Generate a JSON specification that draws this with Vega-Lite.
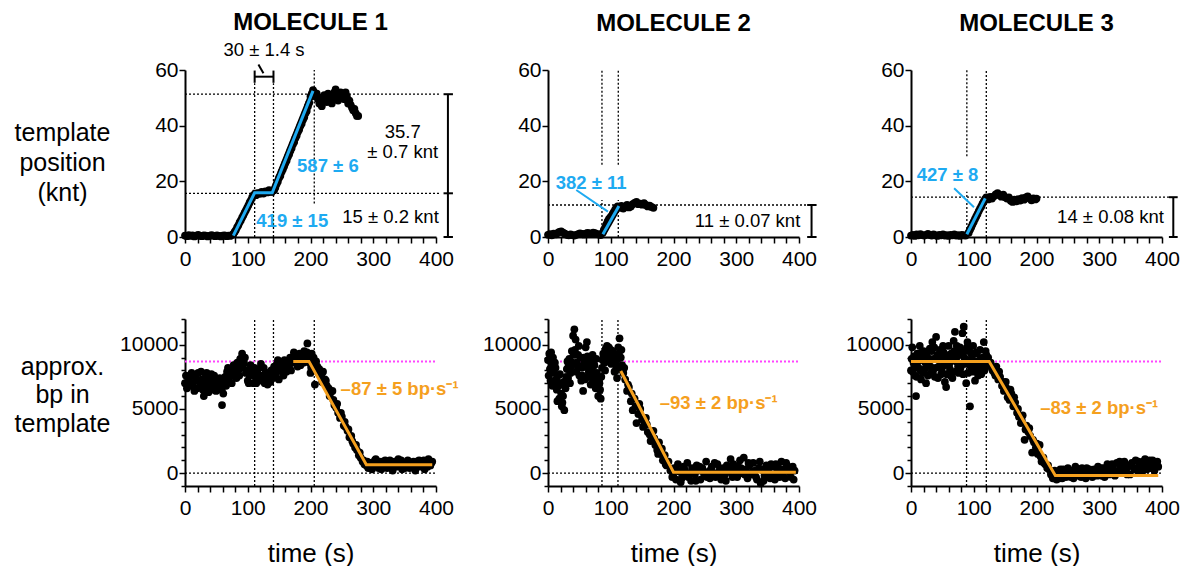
{
"$schema":"https://vega.github.io/schema/vega-lite/v6.json",
"padding":{"left":14,"top":10,"right":0,"bottom":0},
"background":"white",
"config":{
 "font":"Liberation Sans",
 "view":{"stroke":null},
 "axis":{"domainColor":"#000","domainWidth":2,"tickColor":"#000","tickWidth":1.5,"tickSize":6,"labelFontSize":21,"labelColor":"#000","labelFont":"Liberation Sans","labelOverlap":false,"labelFlush":false,"grid":false,"titleFont":"Liberation Sans","titleFontWeight":"normal","titleColor":"#000"},
 "axisX":{"labelPadding":5},
 "axisY":{"labelPadding":1},
 "title":{"font":"Liberation Sans","fontSize":24,"fontWeight":"bold","color":"#000","offset":23,"frame":"group","anchor":"middle"},
 "text":{"font":"Liberation Sans","fontSize":18}
},
"datasets":{
 "p1a":[{"t":0,"v":0.5},{"t":3,"v":0.3},{"t":6,"v":0.7},{"t":9,"v":0.4},{"t":12,"v":0.6},{"t":15,"v":0.2},{"t":18,"v":0.5},{"t":21,"v":0.8},{"t":24,"v":0.4},{"t":27,"v":0.3},{"t":30,"v":0.6},{"t":33,"v":0.5},{"t":36,"v":0.2},{"t":39,"v":0.4},{"t":42,"v":0.7},{"t":45,"v":0.5},{"t":48,"v":0.3},{"t":51,"v":0.6},{"t":54,"v":0.4},{"t":57,"v":0.2},{"t":60,"v":0.5},{"t":63,"v":0.6},{"t":66,"v":0.3},{"t":69,"v":0.5},{"t":72,"v":0.4},{"t":75,"v":0.8},{"t":77,"v":1.0},{"t":79,"v":1.8},{"t":81,"v":2.5},{"t":83,"v":3.5},{"t":85,"v":4.2},{"t":87,"v":5.3},{"t":89,"v":6.0},{"t":91,"v":7.0},{"t":93,"v":7.8},{"t":95,"v":8.8},{"t":97,"v":9.6},{"t":99,"v":10.5},{"t":101,"v":11.4},{"t":103,"v":12.4},{"t":105,"v":13.2},{"t":107,"v":14.2},{"t":109,"v":15.0},{"t":111,"v":15.3},{"t":113,"v":15.0},{"t":116,"v":15.8},{"t":119,"v":15.5},{"t":122,"v":16.2},{"t":125,"v":15.6},{"t":128,"v":16.4},{"t":131,"v":16.0},{"t":134,"v":16.8},{"t":137,"v":16.3},{"t":140,"v":16.6},{"t":142,"v":16.8},{"t":144,"v":17.8},{"t":146,"v":19.0},{"t":148,"v":19.9},{"t":150,"v":21.3},{"t":152,"v":22.0},{"t":154,"v":23.4},{"t":156,"v":24.3},{"t":158,"v":25.4},{"t":160,"v":26.6},{"t":162,"v":27.5},{"t":164,"v":28.8},{"t":166,"v":29.7},{"t":168,"v":31.0},{"t":170,"v":32.0},{"t":172,"v":33.3},{"t":174,"v":34.1},{"t":176,"v":35.6},{"t":178,"v":36.5},{"t":180,"v":37.8},{"t":182,"v":38.6},{"t":184,"v":40.0},{"t":186,"v":40.8},{"t":188,"v":42.1},{"t":190,"v":43.0},{"t":192,"v":44.5},{"t":194,"v":45.3},{"t":196,"v":47.0},{"t":198,"v":48.2},{"t":200,"v":50.5},{"t":202,"v":51.5},{"t":204,"v":52.8},{"t":206,"v":52.0},{"t":208,"v":50.5},{"t":210,"v":51.5},{"t":212,"v":49.5},{"t":214,"v":48.0},{"t":216,"v":50.0},{"t":218,"v":47.0},{"t":220,"v":49.0},{"t":222,"v":51.0},{"t":224,"v":50.0},{"t":226,"v":48.5},{"t":228,"v":51.5},{"t":230,"v":49.5},{"t":232,"v":50.5},{"t":234,"v":48.0},{"t":236,"v":50.0},{"t":238,"v":52.0},{"t":240,"v":53.0},{"t":242,"v":51.0},{"t":244,"v":49.0},{"t":246,"v":51.5},{"t":248,"v":52.0},{"t":250,"v":50.0},{"t":252,"v":51.0},{"t":254,"v":49.5},{"t":256,"v":52.0},{"t":258,"v":50.5},{"t":260,"v":48.0},{"t":262,"v":49.0},{"t":264,"v":47.5},{"t":266,"v":46.5},{"t":268,"v":45.5},{"t":270,"v":46.0},{"t":272,"v":44.5},{"t":274,"v":43.5},{"t":276,"v":43.5}],
 "p2a":[{"t":0,"v":0.8},{"t":3,"v":1.0},{"t":6,"v":0.6},{"t":9,"v":1.2},{"t":12,"v":0.9},{"t":15,"v":1.4},{"t":18,"v":1.8},{"t":21,"v":2.0},{"t":24,"v":1.6},{"t":27,"v":1.2},{"t":30,"v":0.8},{"t":33,"v":0.6},{"t":36,"v":0.9},{"t":39,"v":0.7},{"t":42,"v":0.5},{"t":45,"v":0.8},{"t":48,"v":1.0},{"t":51,"v":1.3},{"t":54,"v":1.1},{"t":57,"v":0.9},{"t":60,"v":1.2},{"t":63,"v":1.5},{"t":66,"v":1.3},{"t":69,"v":1.1},{"t":72,"v":1.6},{"t":75,"v":1.4},{"t":78,"v":1.0},{"t":81,"v":0.9},{"t":84,"v":0.7},{"t":87,"v":1.5},{"t":89,"v":2.6},{"t":91,"v":3.4},{"t":93,"v":4.5},{"t":95,"v":5.6},{"t":97,"v":6.4},{"t":99,"v":7.0},{"t":101,"v":7.5},{"t":103,"v":8.3},{"t":105,"v":9.0},{"t":107,"v":9.8},{"t":109,"v":10.5},{"t":111,"v":11.0},{"t":114,"v":10.5},{"t":117,"v":11.2},{"t":120,"v":10.2},{"t":123,"v":10.8},{"t":126,"v":11.5},{"t":129,"v":10.6},{"t":132,"v":11.0},{"t":135,"v":11.8},{"t":138,"v":12.3},{"t":141,"v":12.6},{"t":144,"v":11.8},{"t":147,"v":12.0},{"t":150,"v":11.6},{"t":153,"v":12.2},{"t":156,"v":11.5},{"t":159,"v":11.0},{"t":162,"v":11.3},{"t":165,"v":10.8},{"t":168,"v":10.5}],
 "p3a":[{"t":0,"v":0.5},{"t":3,"v":0.8},{"t":6,"v":0.4},{"t":9,"v":0.9},{"t":12,"v":0.6},{"t":15,"v":1.0},{"t":18,"v":0.7},{"t":21,"v":0.5},{"t":24,"v":0.8},{"t":27,"v":1.1},{"t":30,"v":0.7},{"t":33,"v":0.5},{"t":36,"v":0.9},{"t":39,"v":0.6},{"t":42,"v":0.4},{"t":45,"v":0.8},{"t":48,"v":0.6},{"t":51,"v":0.9},{"t":54,"v":0.5},{"t":57,"v":0.7},{"t":60,"v":0.4},{"t":63,"v":0.8},{"t":66,"v":0.6},{"t":69,"v":0.9},{"t":72,"v":0.5},{"t":75,"v":0.7},{"t":78,"v":0.4},{"t":81,"v":0.8},{"t":84,"v":0.6},{"t":87,"v":0.5},{"t":92,"v":1.5},{"t":94,"v":2.6},{"t":96,"v":3.5},{"t":98,"v":4.6},{"t":100,"v":5.5},{"t":102,"v":6.5},{"t":104,"v":7.4},{"t":106,"v":8.3},{"t":108,"v":9.3},{"t":110,"v":10.2},{"t":112,"v":11.0},{"t":114,"v":12.0},{"t":116,"v":12.8},{"t":118,"v":13.6},{"t":120,"v":14.2},{"t":123,"v":13.5},{"t":126,"v":14.4},{"t":129,"v":13.8},{"t":132,"v":14.6},{"t":135,"v":15.3},{"t":138,"v":15.8},{"t":141,"v":15.0},{"t":144,"v":14.5},{"t":147,"v":15.2},{"t":150,"v":14.3},{"t":153,"v":13.8},{"t":156,"v":14.2},{"t":159,"v":13.0},{"t":162,"v":12.6},{"t":165,"v":13.4},{"t":168,"v":12.8},{"t":171,"v":13.6},{"t":174,"v":13.1},{"t":177,"v":14.0},{"t":180,"v":13.4},{"t":183,"v":14.2},{"t":186,"v":14.6},{"t":189,"v":13.8},{"t":192,"v":13.2},{"t":195,"v":13.9},{"t":198,"v":13.5},{"t":200,"v":13.8}],
 "p1b":[{"t":0,"v":7000},{"t":3,"v":6600},{"t":6,"v":7400},{"t":9,"v":6900},{"t":12,"v":7600},{"t":15,"v":6400},{"t":18,"v":7200},{"t":21,"v":7800},{"t":24,"v":6800},{"t":27,"v":7300},{"t":30,"v":6000},{"t":33,"v":7500},{"t":36,"v":6700},{"t":39,"v":7100},{"t":42,"v":7700},{"t":45,"v":6500},{"t":48,"v":7300},{"t":51,"v":6900},{"t":54,"v":6600},{"t":57,"v":7000},{"t":59,"v":5300},{"t":61,"v":6200},{"t":64,"v":7500},{"t":67,"v":7900},{"t":70,"v":7300},{"t":73,"v":8100},{"t":76,"v":7600},{"t":79,"v":8300},{"t":82,"v":7400},{"t":85,"v":8000},{"t":88,"v":8900},{"t":91,"v":9300},{"t":94,"v":8600},{"t":97,"v":7800},{"t":100,"v":7200},{"t":103,"v":7600},{"t":106,"v":8100},{"t":109,"v":7000},{"t":112,"v":7500},{"t":115,"v":7900},{"t":118,"v":7200},{"t":121,"v":8500},{"t":124,"v":7600},{"t":127,"v":7000},{"t":130,"v":7300},{"t":133,"v":7800},{"t":136,"v":7100},{"t":139,"v":7600},{"t":142,"v":8300},{"t":145,"v":7700},{"t":148,"v":8800},{"t":151,"v":8000},{"t":154,"v":8400},{"t":157,"v":7600},{"t":160,"v":8200},{"t":163,"v":8700},{"t":166,"v":8400},{"t":169,"v":8000},{"t":172,"v":8900},{"t":175,"v":9200},{"t":178,"v":8700},{"t":181,"v":9100},{"t":184,"v":8400},{"t":187,"v":8800},{"t":190,"v":9500},{"t":193,"v":8900},{"t":195,"v":10100},{"t":198,"v":8600},{"t":200,"v":7800},{"t":202,"v":9300},{"t":205,"v":9000},{"t":207,"v":6900},{"t":209,"v":8700},{"t":211,"v":8300},{"t":214,"v":8100},{"t":217,"v":7600},{"t":220,"v":7900},{"t":223,"v":7300},{"t":226,"v":6800},{"t":229,"v":6600},{"t":232,"v":6300},{"t":235,"v":6400},{"t":238,"v":5300},{"t":241,"v":5100},{"t":244,"v":4700},{"t":247,"v":4300},{"t":250,"v":4400},{"t":253,"v":3700},{"t":256,"v":3600},{"t":259,"v":3300},{"t":262,"v":2800},{"t":265,"v":2900},{"t":268,"v":2300},{"t":271,"v":2000},{"t":274,"v":1800},{"t":277,"v":1400},{"t":280,"v":1200},{"t":283,"v":900},{"t":286,"v":700},{"t":289,"v":600},{"t":292,"v":400},{"t":295,"v":800},{"t":298,"v":300},{"t":301,"v":700},{"t":304,"v":1100},{"t":307,"v":500},{"t":310,"v":900},{"t":313,"v":300},{"t":316,"v":700},{"t":319,"v":1000},{"t":322,"v":400},{"t":325,"v":800},{"t":328,"v":600},{"t":331,"v":200},{"t":334,"v":900},{"t":337,"v":500},{"t":340,"v":1100},{"t":343,"v":700},{"t":346,"v":300},{"t":349,"v":800},{"t":352,"v":600},{"t":355,"v":1000},{"t":358,"v":400},{"t":361,"v":700},{"t":364,"v":900},{"t":367,"v":200},{"t":370,"v":600},{"t":373,"v":1000},{"t":376,"v":500},{"t":379,"v":800},{"t":382,"v":300},{"t":385,"v":700},{"t":388,"v":1100},{"t":391,"v":600},{"t":394,"v":900},
  {"t":1.5,"v":7600},{"t":4.5,"v":6800},{"t":7.5,"v":7100},{"t":10.5,"v":7800},{"t":13.5,"v":6700},{"t":16.5,"v":7500},{"t":19.5,"v":6600},{"t":22.5,"v":7200},{"t":25.5,"v":7900},{"t":28.5,"v":6500},{"t":31.5,"v":7000},{"t":34.5,"v":7800},{"t":37.5,"v":6300},{"t":40.5,"v":7400},{"t":43.5,"v":6900},{"t":46.5,"v":7600},{"t":49.5,"v":6400},{"t":52.5,"v":7200},{"t":55.5,"v":7400},{"t":58.5,"v":6500},{"t":62.5,"v":7000},{"t":65.5,"v":6800},{"t":68.5,"v":8200},{"t":71.5,"v":7700},{"t":74.5,"v":7000},{"t":77.5,"v":8400},{"t":80.5,"v":7900},{"t":83.5,"v":8600},{"t":86.5,"v":7600},{"t":89.5,"v":8200},{"t":92.5,"v":8400},{"t":95.5,"v":9000},{"t":98.5,"v":8000},{"t":101.5,"v":7000},{"t":104.5,"v":8400},{"t":107.5,"v":7800},{"t":110.5,"v":8200},{"t":113.5,"v":7000},{"t":116.5,"v":8100},{"t":119.5,"v":7600},{"t":122.5,"v":7300},{"t":125.5,"v":8200},{"t":128.5,"v":7800},{"t":131.5,"v":6900},{"t":134.5,"v":7600},{"t":137.5,"v":8000},{"t":140.5,"v":7400},{"t":143.5,"v":8000},{"t":146.5,"v":8500},{"t":149.5,"v":7300},{"t":152.5,"v":8600},{"t":155.5,"v":8000},{"t":158.5,"v":8800},{"t":161.5,"v":7900},{"t":164.5,"v":8300},{"t":167.5,"v":9000},{"t":170.5,"v":8600},{"t":173.5,"v":9400},{"t":176.5,"v":8900},{"t":179.5,"v":8300},{"t":182.5,"v":9300},{"t":185.5,"v":9000},{"t":188.5,"v":8600},{"t":191.5,"v":9200},{"t":194.5,"v":9400},{"t":197.5,"v":9100},{"t":201,"v":8200},{"t":204,"v":8600},{"t":212.5,"v":7800},{"t":218.5,"v":7100},{"t":224.5,"v":7200},{"t":230.5,"v":6000},{"t":236.5,"v":5700},{"t":242.5,"v":5400},{"t":248.5,"v":4700},{"t":254.5,"v":4000},{"t":260.5,"v":3400},{"t":266.5,"v":2500},{"t":272.5,"v":2200},{"t":278.5,"v":1600},{"t":284.5,"v":1000},{"t":290.5,"v":900},{"t":296.5,"v":500},{"t":302.5,"v":1000},{"t":308.5,"v":400},{"t":314.5,"v":900},{"t":320.5,"v":600},{"t":326.5,"v":1000},{"t":332.5,"v":500},{"t":338.5,"v":800},{"t":344.5,"v":1000},{"t":350.5,"v":400},{"t":356.5,"v":700},{"t":362.5,"v":500},{"t":368.5,"v":900},{"t":374.5,"v":700},{"t":380.5,"v":1000},{"t":386.5,"v":500},{"t":392.5,"v":800}],
 "p2b":[{"t":0,"v":8800},{"t":2,"v":9300},{"t":4,"v":7200},{"t":6,"v":8500},{"t":8,"v":9000},{"t":10,"v":7000},{"t":12,"v":8200},{"t":14,"v":6500},{"t":16,"v":7600},{"t":18,"v":5800},{"t":20,"v":7000},{"t":22,"v":5200},{"t":24,"v":6000},{"t":26,"v":4900},{"t":28,"v":6600},{"t":30,"v":8100},{"t":32,"v":7400},{"t":34,"v":8900},{"t":36,"v":7800},{"t":38,"v":9500},{"t":40,"v":10700},{"t":42,"v":11200},{"t":44,"v":10400},{"t":46,"v":8600},{"t":48,"v":9200},{"t":50,"v":7600},{"t":52,"v":9000},{"t":54,"v":8200},{"t":56,"v":6400},{"t":58,"v":8700},{"t":60,"v":9800},{"t":62,"v":10200},{"t":64,"v":7500},{"t":66,"v":8800},{"t":68,"v":6900},{"t":70,"v":8000},{"t":72,"v":7200},{"t":74,"v":8400},{"t":76,"v":6600},{"t":78,"v":7800},{"t":80,"v":6000},{"t":82,"v":7000},{"t":84,"v":5800},{"t":86,"v":8200},{"t":88,"v":9300},{"t":90,"v":8600},{"t":92,"v":9700},{"t":94,"v":9900},{"t":96,"v":9400},{"t":98,"v":8800},{"t":100,"v":9600},{"t":102,"v":8900},{"t":104,"v":9100},{"t":106,"v":7900},{"t":108,"v":8600},{"t":110,"v":7400},{"t":112,"v":9800},{"t":114,"v":10500},{"t":116,"v":9000},{"t":118,"v":8400},{"t":120,"v":7800},{"t":123,"v":7300},{"t":126,"v":6400},{"t":129,"v":6700},{"t":132,"v":5600},{"t":135,"v":4900},{"t":138,"v":5800},{"t":141,"v":3900},{"t":144,"v":4600},{"t":147,"v":5000},{"t":150,"v":4200},{"t":153,"v":3700},{"t":156,"v":4300},{"t":159,"v":3200},{"t":162,"v":3000},{"t":165,"v":2600},{"t":168,"v":3300},{"t":171,"v":2200},{"t":174,"v":1800},{"t":177,"v":2400},{"t":180,"v":1500},{"t":183,"v":1000},{"t":186,"v":1400},{"t":189,"v":600},{"t":192,"v":900},{"t":195,"v":200},{"t":198,"v":-300},{"t":201,"v":400},{"t":204,"v":-500},{"t":207,"v":700},{"t":210,"v":100},{"t":213,"v":-400},{"t":216,"v":500},{"t":219,"v":-200},{"t":222,"v":800},{"t":225,"v":0},{"t":228,"v":-600},{"t":231,"v":300},{"t":234,"v":-100},{"t":237,"v":600},{"t":240,"v":200},{"t":243,"v":-500},{"t":246,"v":400},{"t":249,"v":-200},{"t":252,"v":900},{"t":255,"v":100},{"t":258,"v":-400},{"t":261,"v":500},{"t":264,"v":0},{"t":267,"v":-300},{"t":270,"v":700},{"t":273,"v":200},{"t":276,"v":-500},{"t":279,"v":400},{"t":282,"v":-100},{"t":285,"v":600},{"t":288,"v":100},{"t":291,"v":1100},{"t":294,"v":-300},{"t":297,"v":300},{"t":300,"v":-200},{"t":303,"v":500},{"t":306,"v":1000},{"t":309,"v":0},{"t":312,"v":1200},{"t":315,"v":300},{"t":318,"v":-400},{"t":321,"v":600},{"t":324,"v":-100},{"t":327,"v":800},{"t":330,"v":200},{"t":333,"v":-500},{"t":336,"v":400},{"t":339,"v":-800},{"t":342,"v":300},{"t":345,"v":-200},{"t":348,"v":600},{"t":351,"v":100},{"t":354,"v":-400},{"t":357,"v":500},{"t":360,"v":-100},{"t":363,"v":700},{"t":366,"v":200},{"t":369,"v":-300},{"t":372,"v":900},{"t":375,"v":300},{"t":378,"v":-400},{"t":381,"v":600},{"t":384,"v":100},{"t":387,"v":-300},{"t":390,"v":500},{"t":393,"v":200},
  {"t":1,"v":7600},{"t":3,"v":8100},{"t":5,"v":9400},{"t":7,"v":6800},{"t":9,"v":7800},{"t":11,"v":8600},{"t":13,"v":7300},{"t":15,"v":5600},{"t":17,"v":6800},{"t":19,"v":7700},{"t":21,"v":6200},{"t":23,"v":5500},{"t":25,"v":7100},{"t":27,"v":6900},{"t":29,"v":7500},{"t":31,"v":8700},{"t":33,"v":8400},{"t":35,"v":7000},{"t":37,"v":8300},{"t":39,"v":8600},{"t":41,"v":9200},{"t":43,"v":9600},{"t":45,"v":7900},{"t":47,"v":8400},{"t":49,"v":9900},{"t":51,"v":8300},{"t":53,"v":7200},{"t":55,"v":7600},{"t":57,"v":9000},{"t":59,"v":7300},{"t":61,"v":8300},{"t":63,"v":9100},{"t":65,"v":7900},{"t":67,"v":7500},{"t":69,"v":8500},{"t":71,"v":9200},{"t":73,"v":7800},{"t":75,"v":7600},{"t":77,"v":8900},{"t":79,"v":7000},{"t":81,"v":7300},{"t":83,"v":6500},{"t":85,"v":7500},{"t":87,"v":8800},{"t":89,"v":9100},{"t":91,"v":8000},{"t":93,"v":9000},{"t":95,"v":8700},{"t":97,"v":9800},{"t":99,"v":9300},{"t":101,"v":8500},{"t":103,"v":9500},{"t":105,"v":8600},{"t":107,"v":9200},{"t":109,"v":8100},{"t":111,"v":8900},{"t":113,"v":9300},{"t":115,"v":8100},{"t":117,"v":9600},{"t":121.5,"v":8200},{"t":127.5,"v":6900},{"t":133.5,"v":6200},{"t":139.5,"v":5200},{"t":145.5,"v":5400},{"t":151.5,"v":3600},{"t":157.5,"v":3800},{"t":163.5,"v":2500},{"t":169.5,"v":2700},{"t":175.5,"v":1500},{"t":181.5,"v":1900},{"t":187.5,"v":700},{"t":199.5,"v":-200},{"t":205.5,"v":200},{"t":211.5,"v":-700},{"t":217.5,"v":300},{"t":223.5,"v":-300},{"t":229.5,"v":400},{"t":235.5,"v":-600},{"t":241.5,"v":500},{"t":247.5,"v":100},{"t":253.5,"v":-300},{"t":259.5,"v":300},{"t":265.5,"v":800},{"t":271.5,"v":-200},{"t":277.5,"v":200},{"t":283.5,"v":-600},{"t":289.5,"v":400},{"t":295.5,"v":700},{"t":301.5,"v":-300},{"t":307.5,"v":400},{"t":313.5,"v":-100},{"t":319.5,"v":800},{"t":325.5,"v":100},{"t":331.5,"v":-300},{"t":337.5,"v":900},{"t":343.5,"v":-600},{"t":349.5,"v":200},{"t":355.5,"v":700},{"t":361.5,"v":-500},{"t":367.5,"v":400},{"t":373.5,"v":-200},{"t":379.5,"v":800},{"t":385.5,"v":300},{"t":391.5,"v":-500}],
 "p3b":[{"t":0,"v":8000},{"t":2,"v":9800},{"t":4,"v":8600},{"t":6,"v":7600},{"t":8,"v":6000},{"t":10,"v":9300},{"t":12,"v":8200},{"t":14,"v":9900},{"t":16,"v":7300},{"t":18,"v":8800},{"t":20,"v":9500},{"t":22,"v":8100},{"t":24,"v":7000},{"t":26,"v":9000},{"t":28,"v":8500},{"t":30,"v":9700},{"t":32,"v":7800},{"t":34,"v":10200},{"t":36,"v":8900},{"t":38,"v":7500},{"t":40,"v":10600},{"t":42,"v":9200},{"t":44,"v":8300},{"t":46,"v":9600},{"t":48,"v":7700},{"t":50,"v":8900},{"t":52,"v":9400},{"t":54,"v":7100},{"t":56,"v":6700},{"t":58,"v":8600},{"t":60,"v":9900},{"t":62,"v":8100},{"t":64,"v":9300},{"t":66,"v":7400},{"t":68,"v":10300},{"t":70,"v":11000},{"t":72,"v":8700},{"t":74,"v":9100},{"t":76,"v":7800},{"t":78,"v":9800},{"t":80,"v":8400},{"t":82,"v":10900},{"t":84,"v":11400},{"t":86,"v":9500},{"t":88,"v":7000},{"t":90,"v":10200},{"t":92,"v":8800},{"t":94,"v":5200},{"t":96,"v":9300},{"t":98,"v":7900},{"t":100,"v":8600},{"t":102,"v":7200},{"t":104,"v":9400},{"t":106,"v":8000},{"t":108,"v":8700},{"t":110,"v":9600},{"t":112,"v":7700},{"t":114,"v":9000},{"t":116,"v":10200},{"t":118,"v":8400},{"t":120,"v":9200},{"t":122,"v":8800},{"t":124,"v":8600},{"t":127,"v":8600},{"t":130,"v":8000},{"t":133,"v":7800},{"t":136,"v":8300},{"t":139,"v":7300},{"t":142,"v":7500},{"t":145,"v":6800},{"t":148,"v":6400},{"t":151,"v":7100},{"t":154,"v":5900},{"t":157,"v":5700},{"t":160,"v":6200},{"t":163,"v":5200},{"t":166,"v":5500},{"t":169,"v":4700},{"t":172,"v":4400},{"t":175,"v":3900},{"t":178,"v":4500},{"t":181,"v":2600},{"t":184,"v":3700},{"t":187,"v":3200},{"t":190,"v":2900},{"t":193,"v":1600},{"t":196,"v":2400},{"t":199,"v":2000},{"t":202,"v":1500},{"t":205,"v":2200},{"t":208,"v":900},{"t":211,"v":1200},{"t":214,"v":700},{"t":217,"v":400},{"t":220,"v":300},{"t":223,"v":-100},{"t":226,"v":-400},{"t":229,"v":200},{"t":232,"v":-500},{"t":235,"v":-200},{"t":238,"v":300},{"t":241,"v":-400},{"t":244,"v":100},{"t":247,"v":-300},{"t":250,"v":400},{"t":253,"v":-200},{"t":256,"v":200},{"t":259,"v":-400},{"t":262,"v":500},{"t":265,"v":-100},{"t":268,"v":300},{"t":271,"v":-300},{"t":274,"v":200},{"t":277,"v":-200},{"t":280,"v":400},{"t":283,"v":-100},{"t":286,"v":100},{"t":289,"v":-300},{"t":292,"v":300},{"t":295,"v":-100},{"t":298,"v":500},{"t":301,"v":0},{"t":304,"v":-200},{"t":307,"v":400},{"t":310,"v":100},{"t":313,"v":700},{"t":316,"v":-100},{"t":319,"v":300},{"t":322,"v":500},{"t":325,"v":-200},{"t":328,"v":800},{"t":331,"v":200},{"t":334,"v":600},{"t":337,"v":0},{"t":340,"v":900},{"t":343,"v":300},{"t":346,"v":600},{"t":349,"v":-100},{"t":352,"v":800},{"t":355,"v":400},{"t":358,"v":1000},{"t":361,"v":200},{"t":364,"v":700},{"t":367,"v":500},{"t":370,"v":900},{"t":373,"v":1100},{"t":376,"v":300},{"t":379,"v":800},{"t":382,"v":400},{"t":385,"v":1000},{"t":388,"v":200},{"t":391,"v":700},{"t":394,"v":500},
  {"t":1,"v":8900},{"t":3,"v":7900},{"t":5,"v":9100},{"t":7,"v":8400},{"t":9,"v":7500},{"t":11,"v":8700},{"t":13,"v":9100},{"t":15,"v":8000},{"t":17,"v":9400},{"t":19,"v":7800},{"t":21,"v":9000},{"t":23,"v":8600},{"t":25,"v":9300},{"t":27,"v":7600},{"t":29,"v":8900},{"t":31,"v":8300},{"t":33,"v":9500},{"t":35,"v":7900},{"t":37,"v":9800},{"t":39,"v":8200},{"t":41,"v":9000},{"t":43,"v":7400},{"t":45,"v":8800},{"t":47,"v":9400},{"t":49,"v":8100},{"t":51,"v":9900},{"t":53,"v":8400},{"t":55,"v":9200},{"t":57,"v":7700},{"t":59,"v":9100},{"t":61,"v":8500},{"t":63,"v":7600},{"t":65,"v":9000},{"t":67,"v":8800},{"t":69,"v":9500},{"t":71,"v":7900},{"t":73,"v":9900},{"t":75,"v":8300},{"t":77,"v":9600},{"t":79,"v":8200},{"t":81,"v":9400},{"t":83,"v":7700},{"t":85,"v":9000},{"t":87,"v":8500},{"t":89,"v":9800},{"t":91,"v":7800},{"t":93,"v":9500},{"t":95,"v":8300},{"t":97,"v":8900},{"t":99,"v":9900},{"t":101,"v":8100},{"t":103,"v":8700},{"t":105,"v":9300},{"t":107,"v":7600},{"t":109,"v":8500},{"t":111,"v":8900},{"t":113,"v":8200},{"t":115,"v":8700},{"t":117,"v":8000},{"t":119,"v":9500},{"t":121,"v":8400},{"t":123,"v":9000},{"t":128.5,"v":8200},{"t":134.5,"v":7600},{"t":140.5,"v":7900},{"t":146.5,"v":7100},{"t":152.5,"v":6600},{"t":158.5,"v":6500},{"t":164.5,"v":5900},{"t":170.5,"v":5000},{"t":176.5,"v":4100},{"t":182.5,"v":3400},{"t":188.5,"v":3500},{"t":194.5,"v":2600},{"t":200.5,"v":2300},{"t":206.5,"v":1300},{"t":212.5,"v":800},{"t":218.5,"v":600},{"t":224.5,"v":100},{"t":230.5,"v":100},{"t":236.5,"v":-400},{"t":242.5,"v":300},{"t":248.5,"v":0},{"t":254.5,"v":-300},{"t":260.5,"v":200},{"t":266.5,"v":-200},{"t":272.5,"v":400},{"t":278.5,"v":-400},{"t":284.5,"v":300},{"t":290.5,"v":0},{"t":296.5,"v":-200},{"t":302.5,"v":400},{"t":308.5,"v":-300},{"t":314.5,"v":300},{"t":320.5,"v":700},{"t":326.5,"v":100},{"t":332.5,"v":900},{"t":338.5,"v":400},{"t":344.5,"v":-100},{"t":350.5,"v":600},{"t":356.5,"v":300},{"t":362.5,"v":900},{"t":368.5,"v":100},{"t":374.5,"v":700},{"t":380.5,"v":1000},{"t":386.5,"v":500},{"t":392.5,"v":900}],
 "fit":[
  {"p":"1a","t":77,"v":0.5},{"p":"1a","t":111,"v":15.9},{"p":"1a","t":139,"v":15.9},{"p":"1a","t":204,"v":52.5},
  {"p":"2a","t":87.5,"v":1.0},{"p":"2a","t":113,"v":11.1},
  {"p":"3a","t":89,"v":1.0},{"p":"3a","t":118.3,"v":13.9},
  {"p":"1b","t":172.5,"v":8700},{"p":"1b","t":197.5,"v":8700},{"p":"1b","t":289,"v":650},{"p":"1b","t":394,"v":650},
  {"p":"2b","t":116,"v":7950},{"p":"2b","t":200,"v":80},{"p":"2b","t":395,"v":80},
  {"p":"3b","t":0,"v":8700},{"p":"3b","t":124.6,"v":8700},{"p":"3b","t":230,"v":-180},{"p":"3b","t":394,"v":-180}
 ],
 "ann":[
  {"p":"1a","k":"guide","t":111,"t2":111,"v":0,"v2":55.2},
  {"p":"1a","k":"guide","t":141,"t2":141,"v":0,"v2":55.2},
  {"p":"1a","k":"guide","t":206,"t2":206,"v":12,"v2":60},
  {"p":"1a","k":"guide","t":0,"t2":407,"v":51.3,"v2":51.3},
  {"p":"1a","k":"guide","t":0,"t2":407,"v":15.7,"v2":15.7},
  {"p":"1a","k":"bar","t":419,"t2":419,"v":0,"v2":51.3},
  {"p":"1a","k":"bar","t":412,"t2":427,"v":51.3,"v2":51.3},
  {"p":"1a","k":"bar","t":412,"t2":427,"v":15.7,"v2":15.7},
  {"p":"1a","k":"bar","t":412,"t2":427,"v":0,"v2":0},
  {"p":"1a","k":"bar","t":111,"t2":141,"v":57.6,"v2":57.6},
  {"p":"1a","k":"bar","t":111,"t2":111,"v":55.4,"v2":59.8},
  {"p":"1a","k":"bar","t":141,"t2":141,"v":55.4,"v2":59.8},
  {"p":"1a","k":"leadk","t":117,"t2":125,"v":62,"v2":58.8},
  {"p":"2a","k":"guide","t":86,"t2":86,"v":26,"v2":60},
  {"p":"2a","k":"guide","t":86,"t2":86,"v":0,"v2":13.3},
  {"p":"2a","k":"guide","t":112,"t2":112,"v":26,"v2":60},
  {"p":"2a","k":"guide","t":112,"t2":112,"v":0,"v2":13.3},
  {"p":"2a","k":"guide","t":0,"t2":412,"v":11.5,"v2":11.5},
  {"p":"2a","k":"bar","t":420,"t2":420,"v":0,"v2":11.5},
  {"p":"2a","k":"bar","t":413,"t2":428,"v":11.5,"v2":11.5},
  {"p":"2a","k":"bar","t":413,"t2":428,"v":0,"v2":0},
  {"p":"2a","k":"lead","t":45,"t2":95.5,"v":16.9,"v2":9.1},
  {"p":"3a","k":"guide","t":89,"t2":89,"v":29,"v2":60},
  {"p":"3a","k":"guide","t":89,"t2":89,"v":0,"v2":16.3},
  {"p":"3a","k":"guide","t":120,"t2":120,"v":0,"v2":60},
  {"p":"3a","k":"guide","t":0,"t2":412,"v":14.3,"v2":14.3},
  {"p":"3a","k":"bar","t":418,"t2":418,"v":0,"v2":14.3},
  {"p":"3a","k":"bar","t":411,"t2":425,"v":14.3,"v2":14.3},
  {"p":"3a","k":"bar","t":411,"t2":425,"v":0,"v2":0},
  {"p":"3a","k":"lead","t":68.7,"t2":100.4,"v":17.5,"v2":10.7},
  {"p":"1b","k":"guide","t":111,"t2":111,"v":-1000,"v2":12000},
  {"p":"1b","k":"guide","t":141,"t2":141,"v":-1000,"v2":12000},
  {"p":"1b","k":"guide","t":206,"t2":206,"v":-1000,"v2":12000},
  {"p":"1b","k":"guide","t":0,"t2":400,"v":0,"v2":0},
  {"p":"1b","k":"mag","t":0,"t2":400,"v":8700,"v2":8700},
  {"p":"2b","k":"guide","t":86,"t2":86,"v":-1000,"v2":12000},
  {"p":"2b","k":"guide","t":111.5,"t2":111.5,"v":-1000,"v2":12000},
  {"p":"2b","k":"guide","t":0,"t2":400,"v":0,"v2":0},
  {"p":"2b","k":"mag","t":0,"t2":400,"v":8700,"v2":8700},
  {"p":"3b","k":"guide","t":88.5,"t2":88.5,"v":-1000,"v2":12000},
  {"p":"3b","k":"guide","t":120,"t2":120,"v":-1000,"v2":12000},
  {"p":"3b","k":"guide","t":0,"t2":400,"v":0,"v2":0},
  {"p":"3b","k":"mag","t":0,"t2":400,"v":8700,"v2":8700}
 ],
 "lab":[
  {"p":"1a","k":"note","t":347,"v":37.8,"s":"35.7"},
  {"p":"1a","k":"note","t":347,"v":30.6,"s":"± 0.7 knt"},
  {"p":"1a","k":"note","t":327.5,"v":7.3,"s":"15 ± 0.2 knt"},
  {"p":"1a","k":"note","t":126,"v":67.2,"s":"30 ± 1.4 s"},
  {"p":"1a","k":"fit","t":227.7,"v":25.6,"s":"587 ± 6"},
  {"p":"1a","k":"fit","t":170.9,"v":5.7,"s":"419 ± 15"},
  {"p":"2a","k":"note","t":318,"v":5.9,"s":"11 ± 0.07 knt"},
  {"p":"2a","k":"fit","t":68.8,"v":19.5,"s":"382 ± 11"},
  {"p":"3a","k":"note","t":318,"v":7.3,"s":"14 ± 0.08 knt"},
  {"p":"3a","k":"fit","t":58.3,"v":22.3,"s":"427 ± 8"},
  {"p":"1b","k":"fit","t":248,"v":6530,"s":"–87 ± 5 bp·s⁻¹"},
  {"p":"2b","k":"fit","t":178,"v":5434,"s":"–93 ± 2 bp·s⁻¹"},
  {"p":"3b","k":"fit","t":206,"v":5043,"s":"–83 ± 2 bp·s⁻¹"}
 ]
},
"columns":3,
"spacing":{"row":82,"column":112},
"bounds":"flush",
"concat":[
  {"width":251,"height":167,"title":{"text":"MOLECULE 1","offset":6},
   "encoding":{"x":{"field":"t","type":"quantitative","scale":{"domain":[0,400],"nice":false,"zero":false},"axis":{"values":[0,20,40,60,80,100,120,140,160,180,200,220,240,260,280,300,320,340,360,380,400],"labelExpr":"datum.value % 100 === 0 ? datum.label : ''","title":null}},
               "y":{"field":"v","type":"quantitative","scale":{"domain":[0,60],"nice":false,"zero":false},"axis":{"values":[0,20,40,60],"format":"d","title":["template","position","(knt)"],"titleAngle":0,"titleAlign":"center","titleBaseline":"middle","titleX":-123,"titleY":62,"titleFontSize":25,"titleLineHeight":30}}},
   "layer":[
    {"data":{"name":"ann"},"transform":[{"filter":"datum.p==='1a' && datum.k==='guide'"}],"mark":{"type":"rule","color":"#000","strokeWidth":1.3,"strokeDash":[2,2]},"encoding":{"x2":{"field":"t2"},"y2":{"field":"v2"}}},
    {"data":{"name":"p1a"},"mark":{"type":"circle","size":60,"color":"#000","opacity":1}},
    {"data":{"name":"fit"},"transform":[{"filter":"datum.p==='1a'"}],"mark":{"type":"line","color":"#000","strokeWidth":6}},
    {"data":{"name":"fit"},"transform":[{"filter":"datum.p==='1a'"}],"mark":{"type":"line","color":"#1eaaf1","strokeWidth":3}},
    {"data":{"name":"ann"},"transform":[{"filter":"datum.p==='1a' && datum.k==='bar'"}],"mark":{"type":"rule","color":"#000","strokeWidth":2},"encoding":{"x2":{"field":"t2"},"y2":{"field":"v2"}}},
    {"data":{"name":"ann"},"transform":[{"filter":"datum.p==='1a' && datum.k==='leadk'"}],"mark":{"type":"rule","color":"#000","strokeWidth":2},"encoding":{"x2":{"field":"t2"},"y2":{"field":"v2"}}},
    {"data":{"name":"lab"},"transform":[{"filter":"datum.p==='1a' && datum.k==='note'"}],"mark":{"type":"text","fontSize":18.5,"color":"#000"},"encoding":{"text":{"field":"s"}}},
    {"data":{"name":"lab"},"transform":[{"filter":"datum.p==='1a' && datum.k==='fit'"}],"mark":{"type":"text","fontSize":18.5,"fontWeight":"bold","color":"#1eaaf1"},"encoding":{"text":{"field":"s"}}}
   ]},
  {"width":251,"height":167,"title":"MOLECULE 2",
   "encoding":{"x":{"field":"t","type":"quantitative","scale":{"domain":[0,400],"nice":false,"zero":false},"axis":{"values":[0,20,40,60,80,100,120,140,160,180,200,220,240,260,280,300,320,340,360,380,400],"labelExpr":"datum.value % 100 === 0 ? datum.label : ''","title":null}},
               "y":{"field":"v","type":"quantitative","scale":{"domain":[0,60],"nice":false,"zero":false},"axis":{"values":[0,20,40,60],"format":"d","title":null}}},
   "layer":[
    {"data":{"name":"ann"},"transform":[{"filter":"datum.p==='2a' && datum.k==='guide'"}],"mark":{"type":"rule","color":"#000","strokeWidth":1.3,"strokeDash":[2,2]},"encoding":{"x2":{"field":"t2"},"y2":{"field":"v2"}}},
    {"data":{"name":"p2a"},"mark":{"type":"circle","size":60,"color":"#000","opacity":1}},
    {"data":{"name":"fit"},"transform":[{"filter":"datum.p==='2a'"}],"mark":{"type":"line","color":"#000","strokeWidth":6}},
    {"data":{"name":"fit"},"transform":[{"filter":"datum.p==='2a'"}],"mark":{"type":"line","color":"#1eaaf1","strokeWidth":3}},
    {"data":{"name":"ann"},"transform":[{"filter":"datum.p==='2a' && datum.k==='bar'"}],"mark":{"type":"rule","color":"#000","strokeWidth":2},"encoding":{"x2":{"field":"t2"},"y2":{"field":"v2"}}},
    {"data":{"name":"ann"},"transform":[{"filter":"datum.p==='2a' && datum.k==='lead'"}],"mark":{"type":"rule","color":"#1eaaf1","strokeWidth":2},"encoding":{"x2":{"field":"t2"},"y2":{"field":"v2"}}},
    {"data":{"name":"lab"},"transform":[{"filter":"datum.p==='2a' && datum.k==='note'"}],"mark":{"type":"text","fontSize":18.5,"color":"#000"},"encoding":{"text":{"field":"s"}}},
    {"data":{"name":"lab"},"transform":[{"filter":"datum.p==='2a' && datum.k==='fit'"}],"mark":{"type":"text","fontSize":18.5,"fontWeight":"bold","color":"#1eaaf1"},"encoding":{"text":{"field":"s"}}}
   ]},
  {"width":251,"height":167,"title":"MOLECULE 3",
   "encoding":{"x":{"field":"t","type":"quantitative","scale":{"domain":[0,400],"nice":false,"zero":false},"axis":{"values":[0,20,40,60,80,100,120,140,160,180,200,220,240,260,280,300,320,340,360,380,400],"labelExpr":"datum.value % 100 === 0 ? datum.label : ''","title":null}},
               "y":{"field":"v","type":"quantitative","scale":{"domain":[0,60],"nice":false,"zero":false},"axis":{"values":[0,20,40,60],"format":"d","title":null}}},
   "layer":[
    {"data":{"name":"ann"},"transform":[{"filter":"datum.p==='3a' && datum.k==='guide'"}],"mark":{"type":"rule","color":"#000","strokeWidth":1.3,"strokeDash":[2,2]},"encoding":{"x2":{"field":"t2"},"y2":{"field":"v2"}}},
    {"data":{"name":"p3a"},"mark":{"type":"circle","size":60,"color":"#000","opacity":1}},
    {"data":{"name":"fit"},"transform":[{"filter":"datum.p==='3a'"}],"mark":{"type":"line","color":"#000","strokeWidth":6}},
    {"data":{"name":"fit"},"transform":[{"filter":"datum.p==='3a'"}],"mark":{"type":"line","color":"#1eaaf1","strokeWidth":3}},
    {"data":{"name":"ann"},"transform":[{"filter":"datum.p==='3a' && datum.k==='bar'"}],"mark":{"type":"rule","color":"#000","strokeWidth":2},"encoding":{"x2":{"field":"t2"},"y2":{"field":"v2"}}},
    {"data":{"name":"ann"},"transform":[{"filter":"datum.p==='3a' && datum.k==='lead'"}],"mark":{"type":"rule","color":"#1eaaf1","strokeWidth":2},"encoding":{"x2":{"field":"t2"},"y2":{"field":"v2"}}},
    {"data":{"name":"lab"},"transform":[{"filter":"datum.p==='3a' && datum.k==='note'"}],"mark":{"type":"text","fontSize":18.5,"color":"#000"},"encoding":{"text":{"field":"s"}}},
    {"data":{"name":"lab"},"transform":[{"filter":"datum.p==='3a' && datum.k==='fit'"}],"mark":{"type":"text","fontSize":18.5,"fontWeight":"bold","color":"#1eaaf1"},"encoding":{"text":{"field":"s"}}}
   ]},
  {"width":251,"height":167,
   "encoding":{"x":{"field":"t","type":"quantitative","scale":{"domain":[0,400],"nice":false,"zero":false},"axis":{"values":[0,20,40,60,80,100,120,140,160,180,200,220,240,260,280,300,320,340,360,380,400],"labelExpr":"datum.value % 100 === 0 ? datum.label : ''","title":"time (s)","titleFontSize":26,"titlePadding":22}},
               "y":{"field":"v","type":"quantitative","scale":{"domain":[-1000,12000],"nice":false,"zero":false},"axis":{"values":[-1000,0,1000,2000,3000,4000,5000,6000,7000,8000,9000,10000,11000,12000],"format":"d","labelExpr":"datum.value % 5000 === 0 ? datum.label : ''","tickSize":{"condition":{"test":"datum.value % 5000 === 0","value":6},"value":4},"title":["approx.","bp in","template"],"titleAngle":0,"titleAlign":"center","titleBaseline":"middle","titleX":-123,"titleY":47,"titleFontSize":25,"titleLineHeight":28.5}}},
   "layer":[
    {"data":{"name":"ann"},"transform":[{"filter":"datum.p==='1b' && datum.k==='guide'"}],"mark":{"type":"rule","color":"#000","strokeWidth":1.3,"strokeDash":[2,2]},"encoding":{"x2":{"field":"t2"},"y2":{"field":"v2"}}},
    {"data":{"name":"ann"},"transform":[{"filter":"datum.p==='1b' && datum.k==='mag'"}],"mark":{"type":"rule","color":"#ff44ff","strokeWidth":2,"strokeDash":[2,2]},"encoding":{"x2":{"field":"t2"},"y2":{"field":"v2"}}},
    {"data":{"name":"p1b"},"mark":{"type":"circle","size":60,"color":"#000","opacity":1}},
    {"data":{"name":"fit"},"transform":[{"filter":"datum.p==='1b'"}],"mark":{"type":"line","color":"#f5a01e","strokeWidth":3}},
    {"data":{"name":"lab"},"transform":[{"filter":"datum.p==='1b'"}],"mark":{"type":"text","fontSize":18.5,"fontWeight":"bold","color":"#f5a01e","align":"left"},"encoding":{"text":{"field":"s"}}}
   ]},
  {"width":251,"height":167,
   "encoding":{"x":{"field":"t","type":"quantitative","scale":{"domain":[0,400],"nice":false,"zero":false},"axis":{"values":[0,20,40,60,80,100,120,140,160,180,200,220,240,260,280,300,320,340,360,380,400],"labelExpr":"datum.value % 100 === 0 ? datum.label : ''","title":"time (s)","titleFontSize":26,"titlePadding":22}},
               "y":{"field":"v","type":"quantitative","scale":{"domain":[-1000,12000],"nice":false,"zero":false},"axis":{"values":[-1000,0,1000,2000,3000,4000,5000,6000,7000,8000,9000,10000,11000,12000],"format":"d","labelExpr":"datum.value % 5000 === 0 ? datum.label : ''","tickSize":{"condition":{"test":"datum.value % 5000 === 0","value":6},"value":4},"title":null}}},
   "layer":[
    {"data":{"name":"ann"},"transform":[{"filter":"datum.p==='2b' && datum.k==='guide'"}],"mark":{"type":"rule","color":"#000","strokeWidth":1.3,"strokeDash":[2,2]},"encoding":{"x2":{"field":"t2"},"y2":{"field":"v2"}}},
    {"data":{"name":"ann"},"transform":[{"filter":"datum.p==='2b' && datum.k==='mag'"}],"mark":{"type":"rule","color":"#ff44ff","strokeWidth":2,"strokeDash":[2,2]},"encoding":{"x2":{"field":"t2"},"y2":{"field":"v2"}}},
    {"data":{"name":"p2b"},"mark":{"type":"circle","size":60,"color":"#000","opacity":1}},
    {"data":{"name":"fit"},"transform":[{"filter":"datum.p==='2b'"}],"mark":{"type":"line","color":"#f5a01e","strokeWidth":3}},
    {"data":{"name":"lab"},"transform":[{"filter":"datum.p==='2b'"}],"mark":{"type":"text","fontSize":18.5,"fontWeight":"bold","color":"#f5a01e","align":"left"},"encoding":{"text":{"field":"s"}}}
   ]},
  {"width":251,"height":167,
   "encoding":{"x":{"field":"t","type":"quantitative","scale":{"domain":[0,400],"nice":false,"zero":false},"axis":{"values":[0,20,40,60,80,100,120,140,160,180,200,220,240,260,280,300,320,340,360,380,400],"labelExpr":"datum.value % 100 === 0 ? datum.label : ''","title":"time (s)","titleFontSize":26,"titlePadding":22}},
               "y":{"field":"v","type":"quantitative","scale":{"domain":[-1000,12000],"nice":false,"zero":false},"axis":{"values":[-1000,0,1000,2000,3000,4000,5000,6000,7000,8000,9000,10000,11000,12000],"format":"d","labelExpr":"datum.value % 5000 === 0 ? datum.label : ''","tickSize":{"condition":{"test":"datum.value % 5000 === 0","value":6},"value":4},"title":null}}},
   "layer":[
    {"data":{"name":"ann"},"transform":[{"filter":"datum.p==='3b' && datum.k==='guide'"}],"mark":{"type":"rule","color":"#000","strokeWidth":1.3,"strokeDash":[2,2]},"encoding":{"x2":{"field":"t2"},"y2":{"field":"v2"}}},
    {"data":{"name":"ann"},"transform":[{"filter":"datum.p==='3b' && datum.k==='mag'"}],"mark":{"type":"rule","color":"#ff44ff","strokeWidth":2,"strokeDash":[2,2]},"encoding":{"x2":{"field":"t2"},"y2":{"field":"v2"}}},
    {"data":{"name":"p3b"},"mark":{"type":"circle","size":60,"color":"#000","opacity":1}},
    {"data":{"name":"fit"},"transform":[{"filter":"datum.p==='3b'"}],"mark":{"type":"line","color":"#f5a01e","strokeWidth":3}},
    {"data":{"name":"lab"},"transform":[{"filter":"datum.p==='3b'"}],"mark":{"type":"text","fontSize":18.5,"fontWeight":"bold","color":"#f5a01e","align":"left"},"encoding":{"text":{"field":"s"}}}
   ]}
]
}
